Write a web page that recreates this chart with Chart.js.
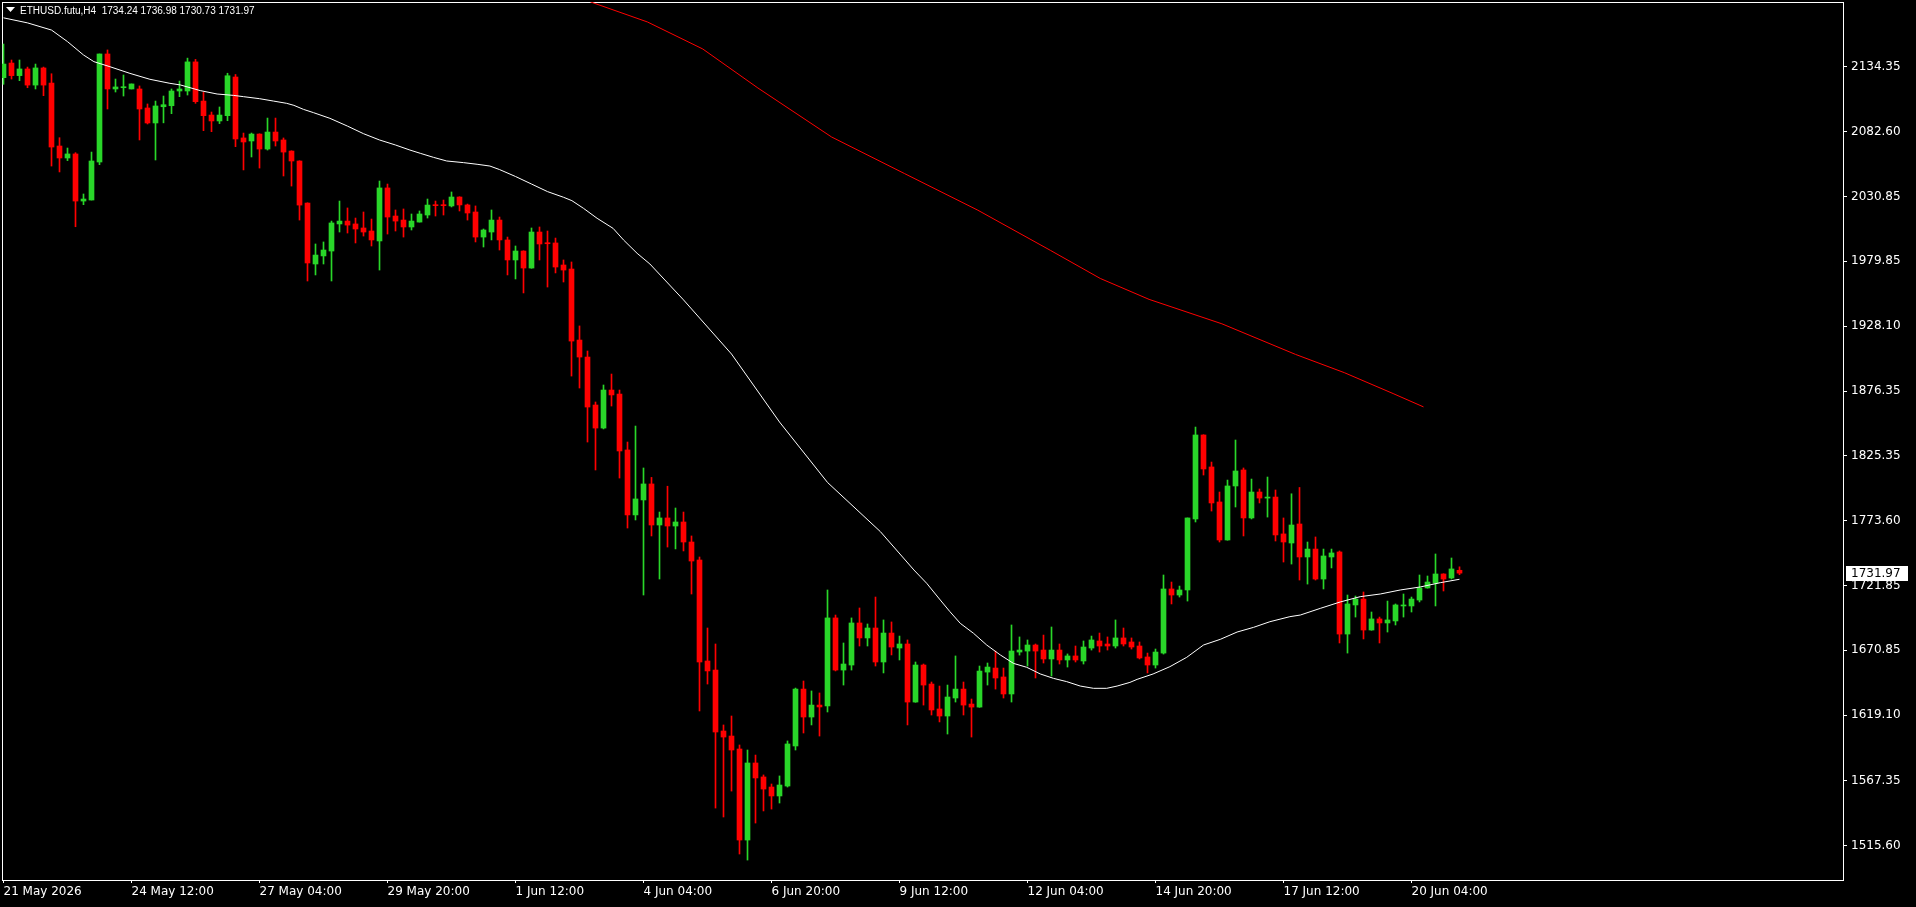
<!DOCTYPE html>
<html>
<head>
<meta charset="utf-8">
<script src="https://cdn.jsdelivr.net/npm/chart.js@4/dist/chart.umd.min.js"></script>
<style>
  html, body { margin: 0; padding: 0; background: #000; }
  canvas { display: block; }
</style>
</head>
<body>
<canvas id="chart" width="1916" height="907"></canvas>
<script>
// ETHUSD.futu H4, one value per candle (bar 0 = 21 May 20:00)
const opens = [2125.5,2137.1,2127.1,2132.4,2119.6,2133.2,2121.2,2071.2,2061.7,2064.9,2027.5,2028.3,2058.5,2144.3,2116.5,2117.5,2116.5,2116.5,2101.4,2089.5,
  2102.4,2103.2,2114.9,2114.9,2138.0,2106.9,2095.8,2091.1,2095.3,2126.0,2077.6,2075.2,2080.7,2068.8,2082.3,2076.0,2067.2,2059.3,2025.9,1977.5,
  1983.9,1987.8,2009.3,2011.6,2009.3,2006.1,2003.7,1995.8,2037.9,2015.6,2012.4,2006.9,2010.8,2016.4,2024.3,2024.3,2023.6,2030.7,2024.4,2018.8,
  1998.9,2002.9,2012.4,1996.6,1980.7,1987.8,1974.3,2002.9,1994.2,1994.2,1976.7,1973.5,1917.1,1903.6,1865.5,1847.2,1877.4,1874.2,1829.8,1778.2,
  1790.1,1802.8,1770.2,1775.8,1769.4,1772.6,1756.7,1742.4,1662.2,1655.0,1606.6,1602.6,1592.3,1520.0,1581.2,1570.1,1562.1,1555.0,1562.9,1594.7,
  1639.9,1617.7,1627.2,1626.5,1696.4,1655.0,1659.0,1692.4,1680.5,1688.4,1661.4,1684.4,1672.5,1675.7,1629.6,1659.0,1643.9,1624.1,1618.5,1632.8,
  1639.9,1628.0,1625.6,1653.4,1656.6,1649.5,1636.0,1669.3,1670.1,1674.9,1670.9,1663.8,1670.9,1663.0,1666.2,1662.2,1672.5,1678.1,1675.7,1674.1,
  1680.5,1677.3,1674.1,1665.4,1659.0,1668.5,1719.4,1714.6,1718.6,1775.0,1841.7,1816.3,1788.5,1758.3,1801.2,1813.9,1775.8,1796.4,1791.6,1792.4,
  1763.1,1755.9,1771.0,1744.8,1751.1,1727.3,1744.8,1748.8,1683.6,1706.7,1711.4,1686.8,1695.6,1692.4,1694.0,1705.9,1705.9,1710.6,1720.2,1724.1,
  1731.3,1728.1,1734.24];
const highs = [2152.2,2139.5,2139.5,2133.9,2136.3,2133.9,2128.6,2077.8,2069.6,2065.9,2033.1,2066.4,2144.3,2147.5,2124.4,2127.6,2120.5,2118.9,2104.6,2106.9,
  2110.9,2116.5,2122.8,2141.0,2140.0,2113.8,2098.2,2102.2,2129.0,2128.0,2081.5,2081.5,2080.9,2093.4,2093.4,2077.6,2067.4,2059.5,2026.1,1993.4,
  1995.0,2011.6,2027.5,2022.0,2014.0,2018.8,2013.2,2043.4,2041.0,2020.4,2021.2,2017.2,2019.6,2029.1,2027.5,2028.3,2034.7,2030.9,2025.1,2023.6,
  2005.3,2020.4,2014.8,1998.9,1991.8,1988.0,2006.1,2006.9,2003.7,1998.1,1980.7,1979.1,1928.3,1908.4,1867.9,1881.4,1890.1,1877.4,1836.1,1848.8,
  1815.5,1808.0,1780.5,1801.0,1783.7,1780.5,1761.5,1744.8,1688.4,1675.7,1611.4,1618.5,1595.5,1591.5,1587.5,1571.7,1564.5,1570.9,1598.7,1640.7,
  1646.3,1638.4,1636.8,1718.6,1698.7,1676.5,1696.4,1704.3,1691.6,1713.0,1694.8,1693.2,1682.0,1678.9,1661.4,1659.8,1645.5,1642.3,1643.1,1666.2,
  1645.5,1632.0,1658.2,1660.6,1670.1,1656.6,1690.8,1681.3,1678.9,1675.7,1682.8,1689.2,1675.7,1667.8,1674.1,1678.1,1682.0,1684.4,1681.3,1694.8,
  1688.4,1680.5,1677.3,1668.5,1671.7,1730.5,1724.9,1721.7,1775.8,1848.0,1841.9,1820.2,1796.4,1805.9,1837.7,1815.5,1806.7,1798.8,1808.3,1798.0,
  1775.8,1795.0,1800.0,1756.7,1760.7,1751.1,1751.1,1749.6,1714.6,1713.8,1717.0,1701.1,1697.1,1709.8,1707.5,1715.4,1713.0,1730.5,1729.7,1747.2,
  1731.5,1744.0,1736.98];
const lows = [2120.2,2124.4,2123.1,2117.5,2116.5,2111.2,2055.3,2050.6,2059.6,2007.1,2024.6,2028.3,2056.4,2100.6,2114.1,2110.9,2116.5,2076.0,2088.7,2060.1,
  2089.6,2096.9,2110.4,2111.7,2105.1,2083.4,2082.6,2089.0,2091.3,2070.7,2052.2,2062.5,2053.7,2068.0,2071.2,2047.4,2039.4,2012.4,1964.0,1968.8,
  1977.5,1964.0,2002.9,2002.1,1994.2,1999.7,1991.8,1972.7,2001.3,2003.7,1998.9,2004.5,2010.8,2014.0,2015.6,2016.4,2022.8,2019.6,2012.4,1995.0,
  1991.0,1996.6,1988.6,1968.8,1965.6,1954.5,1974.1,1980.7,1959.2,1970.4,1963.2,1888.5,1879.0,1836.1,1813.9,1846.5,1864.7,1807.5,1767.8,1774.2,
  1714.6,1761.5,1727.3,1752.7,1751.2,1749.6,1715.4,1622.5,1643.9,1545.4,1538.3,1558.9,1508.9,1504.1,1533.5,1543.1,1544.6,1549.4,1562.1,1591.5,
  1605.0,1611.4,1602.6,1621.7,1654.3,1643.1,1655.0,1674.1,1674.1,1658.2,1652.7,1667.0,1663.0,1611.4,1629.4,1627.2,1619.3,1613.8,1604.2,1629.6,
  1619.3,1601.8,1625.4,1643.1,1639.9,1632.8,1629.6,1666.9,1658.2,1648.7,1660.6,1650.3,1659.8,1657.4,1661.4,1659.8,1670.9,1669.3,1670.9,1672.5,
  1674.1,1671.7,1663.8,1652.7,1656.6,1667.7,1707.5,1713.0,1709.8,1772.6,1809.9,1781.3,1756.7,1758.1,1784.5,1761.5,1775.0,1787.7,1776.5,1757.5,
  1740.8,1739.2,1726.5,1723.3,1726.5,1719.4,1736.1,1676.5,1668.5,1697.1,1679.7,1686.6,1676.5,1685.2,1690.8,1697.1,1701.1,1709.1,1720.0,1705.9,
  1717.8,1727.3,1730.73];
const closes = [2136.3,2127.1,2132.4,2119.6,2133.2,2119.6,2070.4,2061.7,2064.9,2027.5,2029.1,2059.3,2144.3,2116.5,2118.1,2118.1,2120.5,2100.6,2089.5,2103.0,
  2104.0,2114.9,2116.5,2138.0,2106.4,2095.3,2091.1,2095.8,2127.0,2076.8,2074.4,2080.7,2068.8,2082.3,2075.2,2066.4,2059.3,2024.3,1978.3,1984.6,
  1988.6,2010.1,2011.6,2008.4,2005.3,2002.9,1996.6,2037.9,2014.8,2011.6,2006.9,2011.6,2017.2,2024.3,2023.8,2023.8,2030.7,2024.4,2018.0,1998.9,
  2004.5,2012.4,1996.6,1980.7,1987.8,1974.3,2002.9,1993.4,1993.6,1975.1,1972.7,1916.3,1903.6,1863.9,1847.2,1877.4,1873.5,1829.0,1778.2,1790.9,
  1802.8,1770.2,1775.8,1769.4,1772.6,1756.7,1741.6,1661.4,1654.3,1605.8,1601.8,1591.5,1520.0,1581.2,1569.3,1560.5,1555.0,1563.7,1596.3,1639.9,
  1617.7,1627.2,1625.7,1696.4,1655.0,1659.8,1692.4,1680.5,1688.4,1661.4,1684.4,1673.3,1675.7,1629.6,1659.0,1643.1,1623.3,1618.5,1633.6,1639.9,
  1627.2,1625.6,1654.2,1657.4,1648.7,1636.0,1670.1,1670.9,1674.9,1670.1,1663.8,1670.9,1663.0,1666.2,1663.0,1673.3,1678.9,1674.1,1674.1,1680.5,
  1675.7,1673.3,1664.6,1659.0,1669.3,1719.4,1714.6,1718.6,1775.8,1841.7,1814.7,1787.7,1758.3,1801.2,1813.1,1775.8,1796.4,1791.6,1792.4,1762.3,
  1756.7,1770.2,1744.8,1751.1,1727.3,1745.6,1748.0,1683.6,1707.5,1711.4,1686.8,1695.6,1692.4,1694.8,1706.7,1706.7,1711.4,1720.2,1724.9,1731.3,
  1727.3,1735.3,1731.97];

// moving averages as [bar, price]
const maFast = [[0,2173],[3,2169],[6,2163.3],[8,2154.1],[10,2143.5],[11.3,2138.2],[13.3,2134.2],[15.8,2128.9],[18.3,2124.2],[20.8,2121.0],
  [22.1,2119.7],[24.6,2115.2],[26.7,2112.5],[28.75,2111.4],[30,2110.4],[32,2108.8],[33.75,2106.9],[35.4,2105.1],[36.3,2103.5],[37.5,2100.3],
  [38.75,2097.7],[40.8,2093.2],[43,2087],[45,2081],[47,2076],[49,2072],[50.8,2068.0],[52.1,2065.4],[53.75,2062.2],[55.4,2059.3],
  [57.5,2058.0],[59.2,2056.7],[60.8,2055.3],[62,2052.5],[64,2047],[66,2041],[68,2035],[70,2030.5],[71.05,2027.8],[72.5,2021.7],
  [74.2,2013.8],[76.2,2005.8],[77.5,1996.6],[79.2,1986.0],[80.8,1977.5],[85,1949],[91,1906],[97,1852],[103,1804],[109.6,1765],
  [113.8,1734.5],[115.4,1723.9],[117.1,1710.6],[118.3,1701.4],[119.6,1692.1],[121.25,1684.2],[122.9,1674.9],[124.6,1667.0],[126.25,1660.3],[127.9,1657.2],
  [129.6,1651.9],[131.25,1648.4],[132.9,1645.8],[134.6,1642.3],[136.25,1640.5],[137.9,1640.5],[139.2,1642.3],[140.8,1645.2],[141.7,1647.6],[143.7,1651.9],
  [145.8,1657.7],[147.9,1665.1],[150,1674.9],[152.1,1679.4],[154.2,1685.2],[156.25,1688.9],[158.3,1693.4],[160.8,1697.4],[162.1,1698.7],[164.6,1704.0],
  [167.1,1709.1],[169.6,1713.3],[172.1,1715.4],[174.6,1718.6],[177.1,1721.0],[179.6,1724.4],[182,1727.1]];
const maSlow = [[72,2192],[73.4,2185.6],[80.5,2169.7],[87.4,2148.3],[94.3,2117.3],[103.5,2078.4],[112.6,2049.4],[121.8,2020.2],[130.9,1988.2],
  [137.1,1966.0],[143.2,1949.4],[152.3,1930.0],[161.5,1905.7],[167.6,1891.2],[173.7,1874.6],[177.5,1864.0]];

const yTicks = [2134.35, 2082.60, 2030.85, 1979.85, 1928.10, 1876.35, 1825.35, 1773.60, 1721.85, 1670.85, 1619.10, 1567.35, 1515.60];
const xTickBars = [0, 16, 32, 48, 64, 80, 96, 112, 128, 144, 160, 176];
const xTickLabels = ['21 May 2026', '24 May 12:00', '27 May 04:00', '29 May 20:00', '1 Jun 12:00', '4 Jun 04:00',
  '6 Jun 20:00', '9 Jun 12:00', '12 Jun 04:00', '14 Jun 20:00', '17 Jun 12:00', '20 Jun 04:00'];
const header = 'ETHUSD.futu,H4  1734.24 1736.98 1730.73 1731.97';

const bull = '#29d629';
const bear = '#ff0000';
const axisFont = { family: 'DejaVu Sans', size: 12 };

const bars = opens.map((_, i) => i);
const candleColor = bars.map(i => closes[i] > opens[i] ? bull : bear);

// frame, header text and the last price tag, like the terminal draws them
const mtDecor = {
  id: 'mtDecor',
  beforeDatasetsDraw(chart) {
    const ctx = chart.ctx;
    ctx.save();
    ctx.strokeStyle = '#ffffff';
    ctx.lineWidth = 1;
    ctx.strokeRect(2.5, 2.5, 1841, 878);
    ctx.restore();
  },
  afterDraw(chart) {
    const ctx = chart.ctx;
    ctx.save();
    ctx.fillStyle = '#ffffff';
    ctx.beginPath();
    ctx.moveTo(6, 7);
    ctx.lineTo(15, 7);
    ctx.lineTo(10.5, 12);
    ctx.closePath();
    ctx.fill();
    ctx.font = '10px "Liberation Sans"';
    ctx.textBaseline = 'middle';
    ctx.fillText(header, 20, 11);

    const last = closes[closes.length - 1];
    const y = Math.round(chart.scales.y.getPixelForValue(last));
    ctx.fillRect(1846, y - 7, 62, 15);
    ctx.fillStyle = '#000000';
    ctx.font = '12px "DejaVu Sans"';
    ctx.fillText(last.toFixed(2), 1851, y + 0.5);
    ctx.restore();
  }
};

new Chart(document.getElementById('chart'), {
  type: 'bar',
  data: {
    datasets: [
      {
        type: 'line',
        label: 'MA slow',
        data: maSlow.map(p => ({ x: p[0], y: p[1] })),
        borderColor: '#ff0000',
        borderWidth: 1,
        pointRadius: 0,
        pointHoverRadius: 0,
        order: 0
      },
      {
        type: 'line',
        label: 'MA fast',
        data: maFast.map(p => ({ x: p[0], y: p[1] })),
        borderColor: '#ffffff',
        borderWidth: 1,
        pointRadius: 0,
        pointHoverRadius: 0,
        order: 0
      },
      {
        label: 'wick',
        data: bars.map(i => ({ x: i, y: [lows[i], highs[i]] })),
        backgroundColor: candleColor,
        barThickness: 1,
        grouped: false,
        order: 2
      },
      {
        label: 'body',
        data: bars.map(i => ({ x: i, y: [opens[i], closes[i]] })),
        backgroundColor: candleColor,
        barThickness: 5,
        minBarLength: 1,
        grouped: false,
        order: 1
      }
    ]
  },
  options: {
    responsive: false,
    animation: false,
    devicePixelRatio: 1,
    layout: { autoPadding: false, padding: { left: 2, top: 2, right: 0, bottom: 0 } },
    plugins: {
      legend: { display: false },
      tooltip: { enabled: false }
    },
    scales: {
      x: {
        type: 'linear',
        min: -0.1875,
        max: 229.9375,
        offset: false,
        afterBuildTicks: s => { s.ticks = xTickBars.map(v => ({ value: v })); },
        afterFit: s => { s.height = 27; s.paddingLeft = 0; s.paddingRight = 0; },
        border: { display: false },
        grid: { offset: false, drawOnChartArea: false, drawTicks: true, tickLength: 3, color: '#ffffff' },
        ticks: {
          callback: (v, i) => xTickLabels[i],
          color: '#ffffff',
          font: axisFont,
          align: 'start',
          autoSkip: false,
          maxRotation: 0,
          minRotation: 0,
          padding: 2
        }
      },
      y: {
        position: 'right',
        min: 1488.26,
        max: 2185.58,
        afterBuildTicks: s => { s.ticks = yTicks.map(v => ({ value: v })); },
        afterFit: s => { s.width = 73; s.paddingTop = 0; s.paddingBottom = 0; },
        border: { display: false },
        grid: { drawOnChartArea: false, drawTicks: true, tickLength: 4, color: '#ffffff' },
        ticks: {
          callback: v => v.toFixed(2),
          color: '#ffffff',
          font: axisFont,
          padding: 4,
          autoSkip: false
        }
      }
    }
  },
  plugins: [mtDecor]
});
</script>
</body>
</html>
